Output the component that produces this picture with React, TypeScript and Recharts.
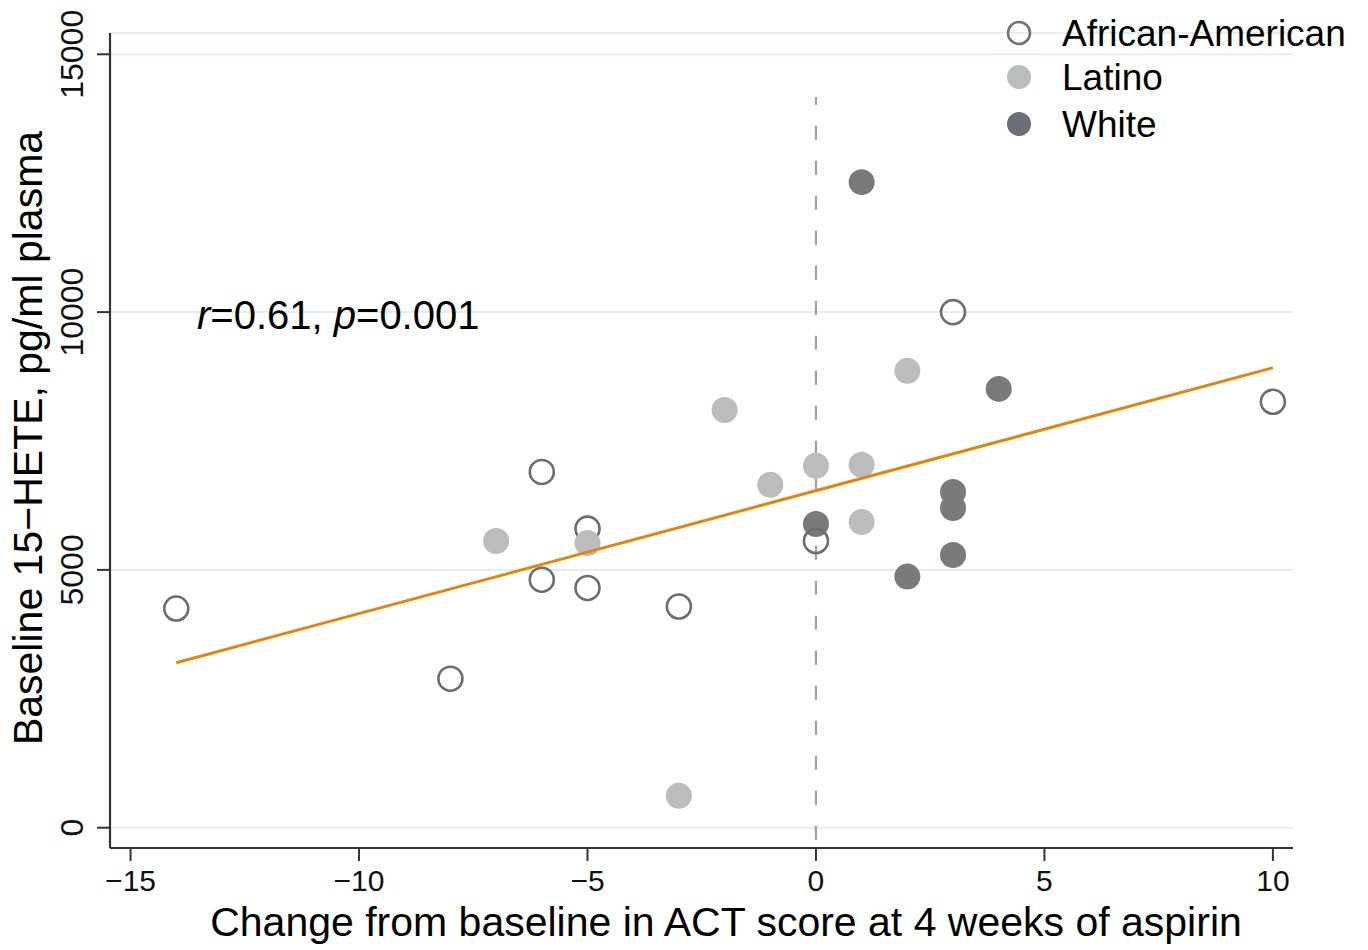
import React from 'react';
import { ScatterChart, Scatter, XAxis, YAxis, CartesianGrid, ReferenceLine } from 'recharts';

// ---- data ----
const aaX = [-14, -8, -6, -6, -5, -5, -3, 0, 3, 10];
const aaY = [4250, 2890, 6900, 4810, 5800, 4650, 4290, 5560, 10000, 8260];
const latX = [-7, -5, -3, -2, -1, 0, 1, 1, 2];
const latY = [5560, 5520, 620, 8100, 6650, 7020, 7040, 5930, 8860];
const whX = [0, 1, 2, 3, 3, 3, 4];
const whY = [5890, 12520, 4870, 6510, 6200, 5290, 8510];
const fitX = [-14, 10];
const fitY = [3200, 8920];
const xTicks = [-15, -10, -5, 0, 5, 10];
const yTicks = [0, 5000, 10000, 15000];
const seriesNames = ['African-American', 'Latino', 'White'];
const xTitle = 'Change from baseline in ACT score at 4 weeks of aspirin';
const yTitle = 'Baseline 15\u2212HETE, pg/ml plasma';

const zip = (xs: number[], ys: number[]) => xs.map((x, i) => ({ x, y: ys[i] }));
const aaData = zip(aaX, aaY);
const latData = zip(latX, latY);
const whData = zip(whX, whY);
const fitData = zip(fitX, fitY);

const FONT = "'Liberation Sans', Arial, Helvetica, sans-serif";
const fmt = (v: number) => (v < 0 ? '\u2212' + Math.abs(v) : String(v));

const HollowDot = (p: any) => (
  <circle cx={p.cx} cy={p.cy} r={12} fill="none" stroke="#6d6d6d" strokeWidth={2.6} />
);
const LatDot = (p: any) => <circle cx={p.cx} cy={p.cy} r={13} fill="#bcbcbc" />;
const WhDot = (p: any) => <circle cx={p.cx} cy={p.cy} r={13} fill="#7a7a7a" />;
const NoDot = () => null;

const XTick = (p: any) => (
  <text x={p.x} y={891} textAnchor="middle" fontSize={30} fontFamily={FONT} fill="#111">
    {fmt(p.payload.value)}
  </text>
);
const YTick = (p: any) => (
  <text
    x={83}
    y={p.y}
    transform={`rotate(-90, 83, ${p.y})`}
    textAnchor="middle"
    fontSize={32}
    fontFamily={FONT}
    fill="#111"
  >
    {fmt(p.payload.value)}
  </text>
);

const XTitle = () => (
  <text x={726} y={936} textAnchor="middle" fontSize={41} fontFamily={FONT} fill="#000">
    {xTitle}
  </text>
);
const YTitle = () => (
  <text
    x={42}
    y={438}
    transform="rotate(-90, 42, 438)"
    textAnchor="middle"
    fontSize={41}
    fontFamily={FONT}
    fill="#000"
  >
    {yTitle}
  </text>
);

export default function App() {
  return (
    <div style={{ position: 'absolute', left: 0, top: 0, width: 1368, height: 950, background: '#fff' }}>
      <ScatterChart width={1368} height={950} margin={{ top: 33, right: 75, bottom: 0, left: 0 }}>
        <CartesianGrid vertical={false} stroke="#e3efed" strokeWidth={2} />
        <XAxis
          type="number"
          dataKey="x"
          domain={[-15.45, 10.44]}
          ticks={xTicks}
          allowDataOverflow
          height={102}
          tickSize={13}
          tickLine={{ stroke: '#333', strokeWidth: 2 }}
          axisLine={{ stroke: '#333', strokeWidth: 2.2 }}
          tick={<XTick />}
          label={{ content: <XTitle /> }}
        />
        <YAxis
          type="number"
          dataKey="y"
          domain={[-394, 15413]}
          ticks={yTicks}
          allowDataOverflow
          width={110}
          tickSize={13}
          tickLine={{ stroke: '#333', strokeWidth: 2 }}
          axisLine={{ stroke: '#333', strokeWidth: 2.2 }}
          tick={<YTick />}
          label={{ content: <YTitle /> }}
        />
        <Scatter name="White" data={whData} shape={<WhDot />} isAnimationActive={false} />
        <Scatter name="African-American" data={aaData} shape={<HollowDot />} isAnimationActive={false} />
        <Scatter name="Latino" data={latData} shape={<LatDot />} isAnimationActive={false} />
        <Scatter
          name="fit"
          data={fitData}
          shape={<NoDot />}
          line={{ stroke: '#de8812', strokeWidth: 3 }}
          isAnimationActive={false}
        />
        <ReferenceLine
          segment={[{ x: 0, y: -233 }, { x: 0, y: 14172 }]}
          stroke="#a0a0a0"
          strokeWidth={2.2}
          strokeDasharray="14 21"
          ifOverflow="visible"
        />
      </ScatterChart>
      <svg
        width={1368}
        height={950}
        style={{ position: 'absolute', left: 0, top: 0, pointerEvents: 'none' }}
      >
        <text x={197} y={329} fontSize={40} fontFamily={FONT} fill="#000">
          <tspan fontStyle="italic">r</tspan>
          <tspan>=0.61, </tspan>
          <tspan fontStyle="italic">p</tspan>
          <tspan>=0.001</tspan>
        </text>
        <circle cx={1019} cy={33} r={11} fill="none" stroke="#707482" strokeWidth={2.6} />
        <circle cx={1019} cy={77} r={12} fill="#b9bdbb" />
        <circle cx={1019} cy={124} r={12} fill="#6c6f7a" />
        {seriesNames.map((n, i) => (
          <text key={n} x={1062} y={[46, 90, 137][i]} fontSize={37} fontFamily={FONT} fill="#000">
            {n}
          </text>
        ))}
      </svg>
    </div>
  );
}
